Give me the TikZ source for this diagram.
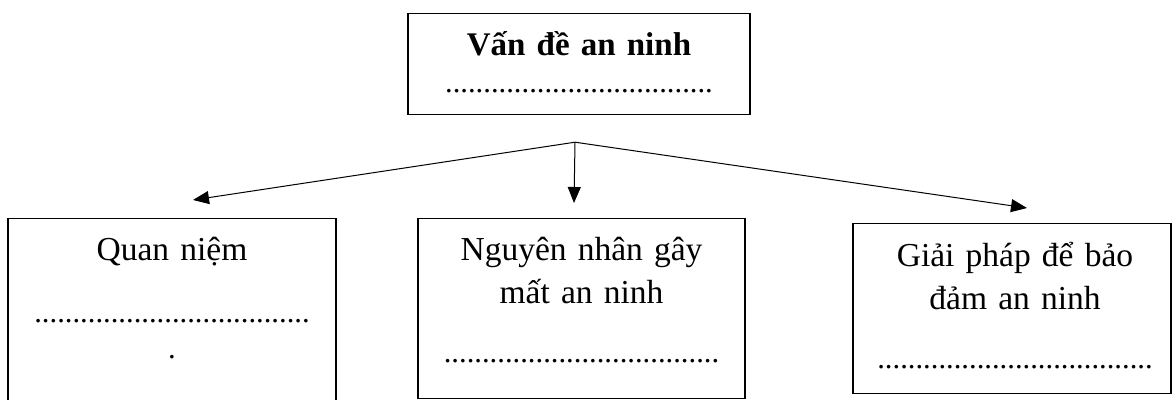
\documentclass[tikz,border=0pt]{standalone}
\usepackage{fontspec}
\setmainfont{Liberation Serif}
\usetikzlibrary{arrows.meta, positioning, calc}

\newcommand{\boxfont}{\fontsize{33.5}{43}\selectfont}
\newcommand{\titlefont}{\fontsize{33}{43}\selectfont\bfseries}
\newcommand{\dotfont}{\fontsize{30.6}{43}\selectfont}
\newcommand{\padtop}[1]{\rule{0pt}{#1}}
\newcommand{\padbottom}[1]{\rule[-#1]{0pt}{#1}}

\begin{document}
\begin{tikzpicture}[
    x=1pt, y=1pt,
    topic/.style={draw, line width=1.2pt, anchor=north, inner xsep=0pt, inner ysep=0pt, align=center, font=\boxfont},
    arrow/.style={-{Triangle[length=16pt, width=13pt]}, line width=1pt}
]
    \clip (0,0) rectangle (1172,399);

    % Top box
    \node[topic, text width=342pt] (issue) at (579,386)
        {\padtop{42pt}{\titlefont Vấn đề an ninh}\\[-6.5pt]{\dotfont ...................................}\padbottom{22.5pt}};

    % Bottom row
    \node[topic, text width=328pt] (view) at (172,181)
        {\padtop{42pt}Quan niệm\\[18.5pt]{\dotfont ....................................}\\[-6.5pt]{\dotfont .}\padbottom{60pt}};
    \node[topic, text width=327pt] (cause) at (581.5,181)
        {\padtop{42pt}Nguyên nhân gây\\mất an ninh\\[15.5pt]{\dotfont ....................................}\padbottom{36.5pt}};
    \node[topic, text width=318pt] (remedy) at (1012,176)
        {\padtop{43pt}\hspace*{6pt}Giải pháp để bảo\\\hspace*{6pt}đảm an ninh\\[16pt]\hspace*{6pt}{\dotfont ....................................}\padbottom{25pt}};

    % Fork point and arrow ends
    \coordinate (fork) at ($(issue.south)+(-4,-27)$);
    \coordinate (view-in) at ($(view.north)+(21,18)$);
    \coordinate (cause-in) at ($(cause.north)+(-7.5,15)$);
    \coordinate (remedy-in) at ($(remedy.north)+(15,15)$);

    % Arrows
    \draw[arrow] (fork) -- (view-in);
    \draw[arrow] (fork) -- (cause-in);
    \draw[arrow] (fork) -- (remedy-in);
\end{tikzpicture}
\end{document}
